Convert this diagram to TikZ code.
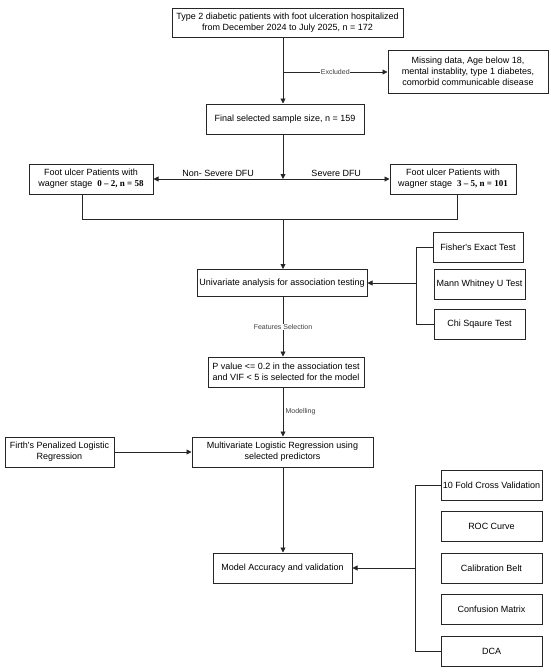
\documentclass[tikz,border=0pt]{standalone}
\usepackage{fontspec}
\setmainfont{Liberation Sans}
\newfontfamily\numfont{Liberation Serif}
\usetikzlibrary{arrows.meta}
\tikzset{
  box/.style={draw=black!85, line width=1pt, inner sep=1pt, align=center, fill=white,
    font=\fontsize{9}{11}\selectfont},
  lbl/.style={font=\fontsize{7}{8}\selectfont, text=black!75, inner sep=0.6pt},
  sidelbl/.style={font=\fontsize{9}{11}\selectfont, inner sep=1.5pt},
  conn/.style={draw=black!85, line width=0.9pt},
  arr/.style={-{Triangle[length=5pt,width=5pt]}}
}
\begin{document}
\begin{tikzpicture}[x=1pt,y=-1pt]
\useasboundingbox (0,0) rectangle (550,672);
\coordinate (spine) at (283,0);

\node[box, minimum width=231pt, minimum height=29pt] (top) at (287.5,22.5)
  {Type 2 diabetic patients with foot ulceration hospitalized\\from December 2024 to July 2025, n = 172};
\node[box, minimum width=160pt, minimum height=43pt] (excl) at (468,71.5)
  {Missing data, Age below 18,\\mental instablity, type 1 diabetes,\\comorbid communicable disease};
\node[box, minimum width=158pt, minimum height=30pt] (final) at (285,119)
  {Final selected sample size, n = 159};
\node[box, minimum width=124pt, minimum height=30pt] (left) at (91,179)
  {Foot ulcer Patients with\\wagner stage\ \ {\numfont\bfseries 0 – 2, n = 58}};
\node[box, minimum width=126pt, minimum height=30pt] (right) at (453,179)
  {Foot ulcer Patients with\\wagner stage\ \ {\numfont\bfseries 3 – 5, n = 101}};
\node[box, minimum width=170pt, minimum height=27pt] (uni) at (282,283)
  {Univariate analysis for association testing};
\node[box, minimum width=90pt, minimum height=30pt] (fisher) at (478,247) {Fisher\textquotesingle s Exact Test};
\node[box, minimum width=91pt, minimum height=30pt] (mann) at (479.5,284) {Mann Whitney U Test};
\node[box, minimum width=91pt, minimum height=30pt] (chi) at (479.5,324) {Chi Sqaure Test};
\node[box, minimum width=156pt, minimum height=30pt] (pval) at (286,372)
  {P value <= 0.2 in the association test\\and VIF < 5 is selected for the model};
\node[box, minimum width=181pt, minimum height=30pt] (multi) at (282.5,452)
  {Multivariate Logistic Regression using\\selected predictors};
\node[box, minimum width=109pt, minimum height=30pt] (firth) at (59.5,452)
  {Firth\textquotesingle s Penalized Logistic\\Regression};
\node[box, minimum width=139pt, minimum height=30pt] (acc) at (282.5,568)
  {Model Accuracy and validation};
\node[box, minimum width=101pt, minimum height=30pt] (fold) at (491.5,485) {10 Fold Cross Validation};
\node[box, minimum width=101pt, minimum height=30pt] (roc) at (491.5,526.5) {ROC Curve};
\node[box, minimum width=101pt, minimum height=30pt] (cal) at (491.5,568) {Calibration Belt};
\node[box, minimum width=101pt, minimum height=30pt] (conf) at (491.5,609.5) {Confusion Matrix};
\node[box, minimum width=101pt, minimum height=30pt] (dca) at (491.5,651) {DCA};

% top -> final, with exclusion branch
\coordinate (exj) at (283,72);
\draw[conn,arr] (top.south -| spine) -- (final.north -| spine);
\draw[conn,arr] (exj) -- node[lbl, fill=white]{Excluded} (excl.west |- exj);

% split into severity groups
\coordinate (split) at (283,179);
\draw[conn,arr] (final.south -| spine) -- (split);
\draw[conn,arr] (split) -- node[above, sidelbl]{Non- Severe DFU} (left.east |- split);
\draw[conn,arr] (split) -- node[above, sidelbl]{Severe DFU} (right.west |- split);

% merge
\coordinate (mL) at (82,219);
\coordinate (mR) at (457,219);
\draw[conn] (left.south -| mL) -- (mL) -- (mR) -- (right.south -| mR);
\draw[conn,arr] (spine |- mL) -- (uni.north -| spine);

% tests bracket
\coordinate (b1) at (416,281);
\draw[conn] (fisher.west) -- (fisher.west -| b1) -- (chi.west -| b1) -- (chi.west);
\draw[conn,arr] (b1 |- uni.east) -- (uni.east);

% main flow
\draw[conn,arr] (uni.south -| spine) -- node[lbl, fill=white]{Features Selection} (pval.north -| spine);
\draw[conn,arr] (pval.south -| spine) -- node[lbl, right, xshift=1.5pt]{Modelling} (multi.north -| spine);
\draw[conn,arr] (firth.east) -- (multi.west);
\draw[conn,arr] (multi.south -| spine) -- (acc.north -| spine);

% validation bracket
\coordinate (b2) at (415,568);
\draw[conn] (fold.west) -- (fold.west -| b2) -- (dca.west -| b2) -- (dca.west);
\draw[conn,arr] (b2 |- acc.east) -- (acc.east);
\end{tikzpicture}
\end{document}
